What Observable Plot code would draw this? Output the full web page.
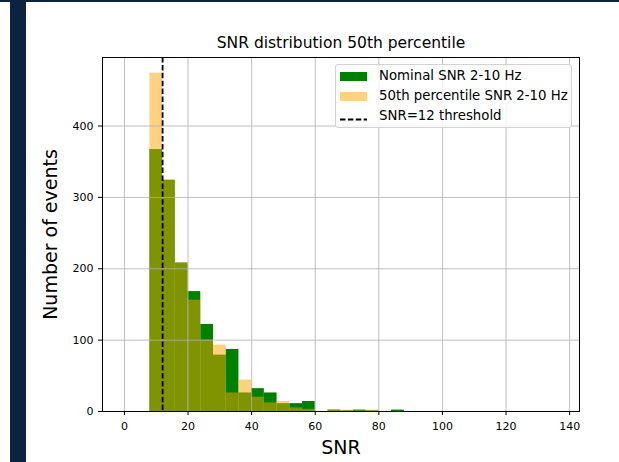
<!DOCTYPE html>
<html>
<head>
<meta charset="utf-8">
<script src="https://cdn.jsdelivr.net/npm/d3@7"></script>
<script src="https://cdn.jsdelivr.net/npm/@observablehq/plot@0.6"></script>
<style>
  html, body { margin: 0; padding: 0; background: #fff; }
  #wrap { position: relative; width: 619px; height: 462px; overflow: hidden; font-family: "DejaVu Sans", sans-serif; }
  #topband { position: absolute; left: 0; top: 0; width: 619px; height: 2px; background: #0c2340; }
  #sidebar { position: absolute; left: 10px; top: 0; width: 16px; height: 462px; background: #0c2340; }
  #chart { position: absolute; left: 0; top: 0; }
  #legend { position: absolute; left: 335px; top: 64px; width: 235px; height: 62px;
            border: 1px solid #d3d3d3; border-radius: 3px; background: rgba(255,255,255,0.8);
            font-size: 13.3px; color: #000; }
  .row { position: absolute; left: 0; height: 20px; width: 100%; }
  .sw { position: absolute; left: 4px; top: 6px; width: 27px; height: 9px; }
  .dash { position: absolute; left: 4px; top: 6px; }
  .lab { position: absolute; left: 43px; top: 1px; line-height: 18px; white-space: nowrap; }
</style>
</head>
<body>
<div id="wrap">
  <div id="topband"></div>
  <div id="sidebar"></div>
  <div id="chart"></div>
  <div id="legend"></div>
</div>
<script>
// Histogram bin edges (SNR), width 4
const binEdges = [8, 12, 16, 20, 24, 28, 32, 36, 40, 44, 48, 52, 56, 60, 64, 68, 72, 76, 80, 84, 88];
// Event counts per bin, nominal SNR 2-10 Hz
const nominalCounts = [367, 324, 208, 168, 122, 79, 87, 26, 32, 26, 11, 11, 14, 0, 2, 1, 2, 1, 0, 2];
// Event counts per bin, 50th percentile SNR 2-10 Hz
const percentileCounts = [474, 324, 208, 156, 100, 93, 26, 44, 20, 12, 14, 5, 3, 0, 2, 2, 1, 2, 0, 0];
const threshold = 12;
const xTicks = [0, 20, 40, 60, 80, 100, 120, 140];
const yTicks = [0, 100, 200, 300, 400];
const titleText = "SNR distribution 50th percentile";
const xLabel = "SNR";
const yLabel = "Number of events";
const seriesNames = ["Nominal SNR 2-10 Hz", "50th percentile SNR 2-10 Hz", "SNR=12 threshold"];

const green = "#008000";
const orange = "orange";
const dashPattern = "5.5,2.4";

const bins = nominalCounts.map((n, i) => ({
  x1: binEdges[i], x2: binEdges[i + 1], nominal: n, percentile: percentileCounts[i]
}));

const chart = Plot.plot({
  width: 619,
  height: 462,
  marginLeft: 102,
  marginRight: 40,
  marginTop: 57,
  marginBottom: 51,
  style: { fontFamily: "DejaVu Sans, sans-serif", fontSize: "11px", color: "#000", background: "transparent", overflow: "visible" },
  x: { domain: [-6.9, 143.1], ticks: xTicks, tickSize: 4, tickPadding: 7, label: null },
  y: { domain: [0, 496], ticks: yTicks, tickSize: 4, tickPadding: 5, label: null },
  marks: [
    Plot.rectY(bins, { x1: "x1", x2: "x2", y: "nominal", fill: green, inset: 0 }),
    Plot.rectY(bins, { x1: "x1", x2: "x2", y: "percentile", fill: orange, fillOpacity: 0.5, inset: 0 }),
    Plot.ruleX(xTicks, { stroke: "#b0b0b0", strokeWidth: 0.8 }),
    Plot.ruleY(yTicks, { stroke: "#b0b0b0", strokeWidth: 0.8 }),
    Plot.ruleX([threshold], { stroke: "#000", strokeWidth: 1.8, strokeDasharray: dashPattern }),
    Plot.frame({ stroke: "#000", strokeWidth: 1 }),
    Plot.text([titleText], { frameAnchor: "top", dy: -14, lineAnchor: "middle", textAnchor: "middle", fontSize: 15.5 }),
    Plot.text([xLabel], { frameAnchor: "bottom", dy: 36, lineAnchor: "middle", textAnchor: "middle", fontSize: 19 }),
    Plot.text([yLabel], { frameAnchor: "left", dx: -52, rotate: -90, lineAnchor: "middle", textAnchor: "middle", fontSize: 19 })
  ]
});
document.getElementById("chart").appendChild(chart);

// Legend
const legend = document.getElementById("legend");
const swatches = [
  { type: "patch", color: green, opacity: 1 },
  { type: "patch", color: orange, opacity: 0.5 },
  { type: "dash" }
];
seriesNames.forEach((name, i) => {
  const row = document.createElement("div");
  row.className = "row";
  row.style.top = (1 + i * 20) + "px";
  let sw;
  if (swatches[i].type === "patch") {
    sw = document.createElement("div");
    sw.className = "sw";
    sw.style.background = swatches[i].color;
    sw.style.opacity = swatches[i].opacity;
  } else {
    sw = document.createElement("div");
    sw.className = "dash";
    sw.innerHTML = `<svg width="27" height="9"><line x1="0" x2="27" y1="4.5" y2="4.5" stroke="#000" stroke-width="1.8" stroke-dasharray="${dashPattern}"/></svg>`;
  }
  const lab = document.createElement("div");
  lab.className = "lab";
  lab.textContent = name;
  row.appendChild(sw);
  row.appendChild(lab);
  legend.appendChild(row);
});
</script>
</body>
</html>
